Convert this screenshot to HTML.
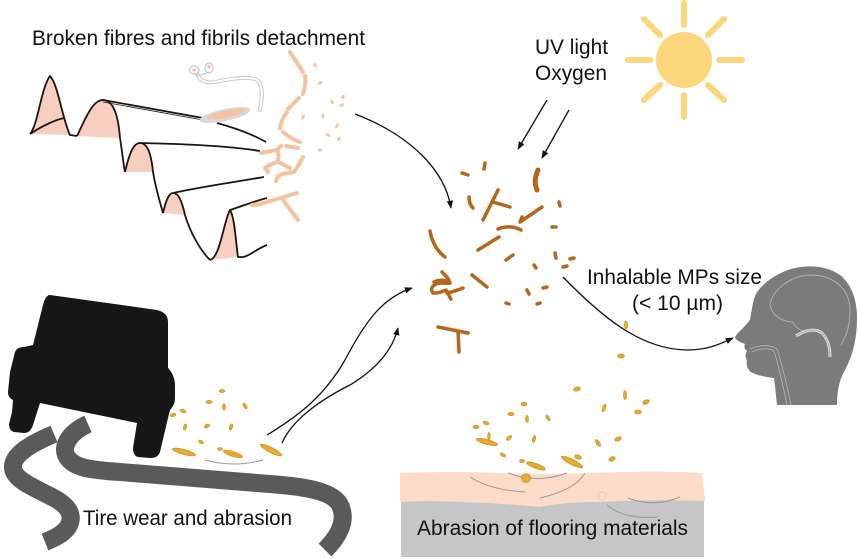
<!DOCTYPE html>
<html><head><meta charset="utf-8"><style>
html,body{margin:0;padding:0;background:#fff;}
svg{display:block;}
text{font-family:"Liberation Sans",Arial,sans-serif;font-size:21px;fill:#111;}
</style></head><body>
<svg width="858" height="559" viewBox="0 0 858 559" xmlns="http://www.w3.org/2000/svg">
<defs>
<marker id="ah" viewBox="0 0 10 10" refX="9" refY="5" markerWidth="8" markerHeight="8" orient="auto" markerUnits="userSpaceOnUse"><path d="M0,1 L10,5 L0,9 z" fill="#111"/></marker>
</defs>
<rect width="858" height="559" fill="#fff"/>

<!-- Texts -->
<text x="32" y="45" textLength="333" lengthAdjust="spacingAndGlyphs">Broken fibres and fibrils detachment</text>
<text x="535" y="54" textLength="73" lengthAdjust="spacingAndGlyphs">UV light</text>
<text x="535" y="80" textLength="72" lengthAdjust="spacingAndGlyphs">Oxygen</text>
<text x="587" y="284" textLength="175" lengthAdjust="spacingAndGlyphs">Inhalable MPs size</text>
<text x="632" y="310" textLength="91" lengthAdjust="spacingAndGlyphs">(&lt; 10 µm)</text>

<!-- Sun -->
<g stroke="#FBD67A" stroke-width="6" stroke-linecap="round">
<line x1="684" y1="3" x2="684" y2="25"/>
<line x1="684" y1="95" x2="684" y2="117"/>
<line x1="628" y1="60" x2="650" y2="60"/>
<line x1="719" y1="60" x2="742" y2="60"/>
<line x1="644" y1="19" x2="660" y2="35"/>
<line x1="708" y1="85" x2="724" y2="100"/>
<line x1="724" y1="19" x2="708" y2="35"/>
<line x1="660" y1="85" x2="644" y2="100"/>
</g>
<circle cx="684" cy="60" r="28" fill="#FBD67A"/>

<!-- UV arrows -->
<g stroke="#111" stroke-width="1.3" fill="none" marker-end="url(#ah)">
<path d="M547,100 L518,149"/>
<path d="M569,110 L542,158"/>
<path d="M355,114 C 410,135 445,170 451,208"/>
<path d="M267,435 C 300,415 325,395 345,360 C 365,322 382,298 412,288"/>
<path d="M282,443 C 292,420 320,400 350,385 C 375,370 392,352 398,328"/>
<path d="M563,277 C 600,315 640,350 688,350 C 708,350 720,344 733,338"/>
</g>

<!-- Fabric -->
<g fill="#F8CEC0" stroke="none">
<path d="M30,134 C 38,125 41,88 50,76 C 58,84 62,118 70,135 Z"/>
<path d="M77,136 C 85,120 92,100 103,100 C 112,100 118,112 120,138 Z"/>
<path d="M125,172 C 129,155 133,143 140,143 C 147,143 151,152 153,172 Z"/>
<path d="M163,213 C 166,200 169,193 173,193 C 179,193 182,202 185,215 Z"/>
<path d="M210,260 C 220,258 224,220 230,210 C 235,218 236,245 238,257 Z"/>
</g>
<g fill="none" stroke="#1c1410" stroke-width="1.8" stroke-linejoin="round">
<path d="M30,134 C 38,125 41,88 50,76 C 58,84 62,118 70,135 L 77,136"/>
<path d="M30,134 C 42,126 55,120 64,118"/>
<path d="M77,136 C 85,120 92,100 103,100 C 112,100 118,112 120,138 C 122,150 123,162 125,172"/>
<path d="M125,172 C 129,155 133,143 140,143 C 147,143 151,152 153,172 C 156,190 160,202 163,213"/>
<path d="M163,213 C 166,200 169,193 173,193 C 179,193 182,202 185,215 C 190,232 200,250 210,260"/>
<path d="M210,260 C 220,258 224,220 230,210 C 235,218 236,245 238,257 L 243,257 C 250,256 256,249 267,245"/>
<path d="M103,100 L 203,118"/>
<path d="M103,102 L 203,120" stroke-width="0.8"/>
<path d="M217,123 C 235,128 252,134 266,142"/>
<path d="M140,143 C 190,144 230,146 260,151"/>
<path d="M173,193 C 200,187 235,182 264,177"/>
<path d="M230,210 C 245,205 255,201 267,198"/>
</g>

<!-- gray/white fibre -->
<g fill="none">
<path d="M198,75 C 200,82 210,84 220,81 C 235,78 250,76 257,80 C 264,86 262,100 260,110" stroke="#c9c9c9" stroke-width="4" stroke-linecap="round"/>
<path d="M198,75 C 200,82 210,84 220,81 C 235,78 250,76 257,80 C 264,86 262,100 260,110" stroke="#fff" stroke-width="2" stroke-linecap="round"/>
<ellipse cx="194" cy="70" rx="5" ry="4" stroke="#c9c9c9" stroke-width="1.2"/>
<ellipse cx="209" cy="68" rx="4" ry="5" stroke="#c9c9c9" stroke-width="1.2"/>
<path d="M194,74 C 200,78 205,72 209,73" stroke="#c9c9c9" stroke-width="1.2"/>
</g>
<circle cx="194" cy="70" r="1.8" fill="#F3C29F"/>
<circle cx="209" cy="67" r="1.8" fill="#F3C29F"/>
<ellipse cx="225" cy="115" rx="26" ry="6" transform="rotate(-12 225 115)" fill="#d9d9d9"/>
<ellipse cx="226" cy="114" rx="20" ry="3.5" transform="rotate(-12 226 114)" fill="#F3C29F"/>

<!-- peach fibres -->
<g fill="none" stroke="#F3C29F" stroke-width="4" stroke-linecap="round" stroke-linejoin="round">
<path d="M290,52 L303,72"/>
<path d="M305,76 C 306,82 305,88 303,94"/>
<path d="M299,98 L288,109"/>
<path d="M287,112 C 283,117 281,122 280,128"/>
<path d="M283,132 C 289,137 294,140 300,142"/>
<path d="M286,146 L298,148"/>
<path d="M261,153 L277,150 L281,146 M278,152 C 279,156 279,159 277,162 C 272,164 268,165 265,168 L268,172"/>
<path d="M280,163 L290,168 M303,157 C 300,163 297,168 294,172 L282,174 C 278,176 276,178 276,181"/>
<path d="M257,205 L297,193 M283,200 L298,220"/>
<path d="M252,205 L258,204"/>
</g>
<g fill="#F3C29F">
<ellipse cx="315" cy="65" rx="1.5" ry="2.5" transform="rotate(-30 315 65)"/>
<ellipse cx="320" cy="83" rx="2.5" ry="1.5" transform="rotate(-30 320 83)"/>
<ellipse cx="332" cy="102" rx="1.5" ry="2.5" transform="rotate(-40 332 102)"/>
<ellipse cx="343" cy="97" rx="1.5" ry="2.5" transform="rotate(30 343 97)"/>
<ellipse cx="342" cy="105" rx="2.5" ry="1.5" transform="rotate(-30 342 105)"/>
<ellipse cx="303" cy="117" rx="1.5" ry="2.5" transform="rotate(30 303 117)"/>
<ellipse cx="323" cy="116" rx="1.5" ry="2.5"/>
<ellipse cx="337" cy="126" rx="1.5" ry="2.5" transform="rotate(30 337 126)"/>
<ellipse cx="328" cy="135" rx="2.5" ry="1.5" transform="rotate(30 328 135)"/>
<ellipse cx="339" cy="139" rx="1.5" ry="2.5" transform="rotate(30 339 139)"/>
<ellipse cx="320" cy="150" rx="2.5" ry="1.5"/>
</g>

<!-- brown cluster -->
<g fill="none" stroke="#B5661A" stroke-width="3.5" stroke-linecap="round" stroke-linejoin="round">
<path d="M538,170 C 535,177 534,183 537,190" stroke-width="5"/>
<path d="M485,163 L484,169"/>
<path d="M462,173 L468,175"/>
<path d="M469,197 C 469,202 470,205 473,208"/>
<path d="M483,220 L498,190 M493,202 L510,207"/>
<path d="M520,222 L542,207 M520,222 L522,217"/>
<path d="M498,229 C 505,226 514,226 521,230"/>
<path d="M478,250 L499,237"/>
<path d="M430,231 C 432,242 437,251 445,257"/>
<path d="M559,202 L560,206"/>
<path d="M552,227 L556,227"/>
<path d="M506,260 L513,255"/>
<path d="M472,275 L487,287"/>
<path d="M555,253 L556,258"/>
<path d="M563,267 L567,266"/>
<path d="M570,259 L574,258"/>
<path d="M534,265 L536,268"/>
<path d="M527,290 L529,294"/>
<path d="M543,288 L547,287"/>
<path d="M506,303 L509,304"/>
<path d="M537,304 L540,303"/>
<path d="M442,272 C 446,276 449,279 450,283 C 446,284 440,282 436,284 C 432,286 430,289 433,293 C 438,294 443,291 446,290 C 448,293 449,296 451,299 M447,293 C 453,292 458,290 463,288 M434,282 C 438,280 443,280 447,281"/>
<path d="M438,327 L468,333 M458,331 L459,352"/>
</g>

<!-- flooring -->
<rect x="401" y="500" width="303" height="57" fill="#C6C6C6"/>
<path d="M400,473 Q 450,471 500,473 Q 560,475 620,472 Q 670,471 702,473 L 705,501 Q 650,499 600,502 Q 560,502 540,507 Q 500,503 460,502 Q 430,500 400,502 Z" fill="#FCDCC8"/>
<g fill="none" stroke="#9a9a9a" stroke-width="1">
<path d="M508,473 Q 537,484 567,473"/>
<path d="M470,477 Q 490,490 525,492"/>
<path d="M540,498 Q 575,490 585,473"/>
<path d="M628,498 Q 655,508 680,497"/>
<path d="M607,505 Q 625,520 658,517"/>
<path d="M205,460 Q 234,468 263,460"/>
</g>
<circle cx="602" cy="496" r="4" fill="none" stroke="#e6cbb8" stroke-width="1"/>
<text x="417" y="535" textLength="271" lengthAdjust="spacingAndGlyphs">Abrasion of flooring materials</text>

<!-- golden particles -->
<g fill="#E5AA2E" stroke="#BF8A1E" stroke-width="0.6">
<circle cx="526" cy="478" r="4.5"/>
<ellipse cx="626" cy="325" rx="1.5" ry="4"/>
<ellipse cx="621" cy="356" rx="3.5" ry="2"/>
<ellipse cx="577" cy="389" rx="3.5" ry="2" transform="rotate(-15 577 389)"/>
<ellipse cx="625" cy="395" rx="1.5" ry="4.5"/>
<ellipse cx="646" cy="402" rx="3.5" ry="2" transform="rotate(-25 646 402)"/>
<ellipse cx="638" cy="412" rx="3.5" ry="2"/>
<ellipse cx="604" cy="408" rx="1.6" ry="4" transform="rotate(20 604 408)"/>
<ellipse cx="524" cy="404" rx="3" ry="1.7"/>
<ellipse cx="511" cy="414" rx="3" ry="1.7"/>
<ellipse cx="527" cy="419" rx="1.5" ry="3.5"/>
<ellipse cx="548" cy="418" rx="1.5" ry="3.2" transform="rotate(-35 548 418)"/>
<ellipse cx="476" cy="427" rx="3" ry="1.7"/>
<ellipse cx="486" cy="423" rx="3" ry="1.7" transform="rotate(20 486 423)"/>
<ellipse cx="487" cy="442" rx="11" ry="2.5" transform="rotate(15 487 442)"/>
<ellipse cx="489" cy="436" rx="1.3" ry="3.5"/>
<ellipse cx="509" cy="438" rx="1.6" ry="3.2" transform="rotate(50 509 438)"/>
<ellipse cx="534" cy="439" rx="1.5" ry="3.5" transform="rotate(15 534 439)"/>
<ellipse cx="598" cy="443" rx="1.6" ry="4" transform="rotate(-35 598 443)"/>
<ellipse cx="618" cy="439" rx="3.5" ry="2" transform="rotate(-20 618 439)"/>
<ellipse cx="503" cy="455" rx="3" ry="1.6" transform="rotate(30 503 455)"/>
<ellipse cx="578" cy="457" rx="3.5" ry="2" transform="rotate(20 578 457)"/>
<ellipse cx="572" cy="462" rx="12" ry="2.6" transform="rotate(27 572 462)"/>
<ellipse cx="612" cy="459" rx="3.5" ry="2" transform="rotate(-30 612 459)"/>
<ellipse cx="522" cy="461" rx="2.5" ry="1.7"/>
<ellipse cx="536" cy="466" rx="10" ry="2.5" transform="rotate(20 536 466)"/>
<!-- car particles -->
<ellipse cx="173" cy="415" rx="3" ry="1.6" transform="rotate(-15 173 415)"/>
<ellipse cx="183" cy="411" rx="3" ry="1.6" transform="rotate(20 183 411)"/>
<ellipse cx="222" cy="391" rx="3" ry="1.6"/>
<ellipse cx="209" cy="402" rx="3" ry="1.6"/>
<ellipse cx="224" cy="407" rx="1.5" ry="3.2"/>
<ellipse cx="245" cy="406" rx="1.5" ry="3.2" transform="rotate(-35 245 406)"/>
<ellipse cx="185" cy="427" rx="1.5" ry="3.2" transform="rotate(15 185 427)"/>
<ellipse cx="207" cy="426" rx="3" ry="1.6" transform="rotate(-25 207 426)"/>
<ellipse cx="231" cy="427" rx="1.5" ry="3.2" transform="rotate(20 231 427)"/>
<ellipse cx="201" cy="442" rx="2.8" ry="1.5" transform="rotate(30 201 442)"/>
<ellipse cx="184" cy="452" rx="12" ry="2.5" transform="rotate(15 184 452)"/>
<ellipse cx="220" cy="449" rx="2.5" ry="1.5"/>
<ellipse cx="233" cy="454" rx="10" ry="2.5" transform="rotate(18 233 454)"/>
<ellipse cx="271" cy="450" rx="12" ry="2.6" transform="rotate(27 271 450)"/>
</g>

<!-- tire tracks -->
<g fill="none" stroke="#5a5a5a" stroke-width="18">
<path d="M54,434 C 30,444 12,455 13,468 C 14,480 35,488 52,497 C 68,505 75,515 68,527 C 63,534 55,538 45,542"/>
<path d="M88,424 C 70,432 62,445 66,455 C 72,468 90,470 120,472 L 270,484 C 310,487 333,492 340,505 C 347,520 340,535 325,550"/>
</g>
<text x="83" y="525" textLength="209" lengthAdjust="spacingAndGlyphs">Tire wear and abrasion</text>

<!-- car -->
<path d="M50,295 L157,310 C 165,312 168,316 168,322 L168,368 C 172,372 175,378 175,386 L175,398 C 175,404 172,408 170,410 L168,418 L160,452 C 158,457 155,458 150,458 L138,457 C 134,456 133,452 133,448 L137,423 L40,403 L33,425 C 31,431 28,433 24,433 L14,432 C 10,431 9,427 9,424 L12,412 L13,400 C 9,398 8,395 8,392 L10,372 L15,352 C 17,348 20,347 24,347 L33,345 L43,305 C 45,298 47,295 50,295 Z" fill="#171717"/>

<!-- head -->
<path d="M783,272 C 800,264 825,264 840,275 C 852,285 857,300 857,318 C 857,338 853,355 845,370 C 839,380 837,392 837,405 L 777,405 C 776,395 775,385 774,378 C 765,377 756,375 751,372 C 747,369 746,364 747,360 C 745,357 745,354 747,351 C 744,349 744,346 745,344 C 740,342 735,340 735,337 C 737,333 744,328 750,320 C 752,310 753,298 757,292 C 764,283 772,277 783,272 Z" fill="#7B7B7B"/>
<g fill="none" stroke="#b3b3b3" stroke-width="0.9">
<path d="M770,305 C 772,290 790,276 810,275 C 835,275 850,290 850,310 C 850,325 846,337 841,345"/>
<path d="M770,305 C 772,316 783,322 793,322 C 796,330 806,333 815,330"/>
<path d="M750,349 C 760,344 772,345 777,349 C 782,365 787,385 791,405"/>
<path d="M752,352 C 760,348 770,348 774,351 C 779,366 783,386 787,405"/>
</g>
<path d="M796,336 C 805,330 815,328 822,333 C 828,339 830,348 830,357" fill="none" stroke="#e0e0e0" stroke-width="3"/>
<path d="M796,336 C 805,330 815,328 822,333 C 828,339 830,348 830,357" fill="none" stroke="#9a9a9a" stroke-width="0.8"/>
</svg>
</body></html>
